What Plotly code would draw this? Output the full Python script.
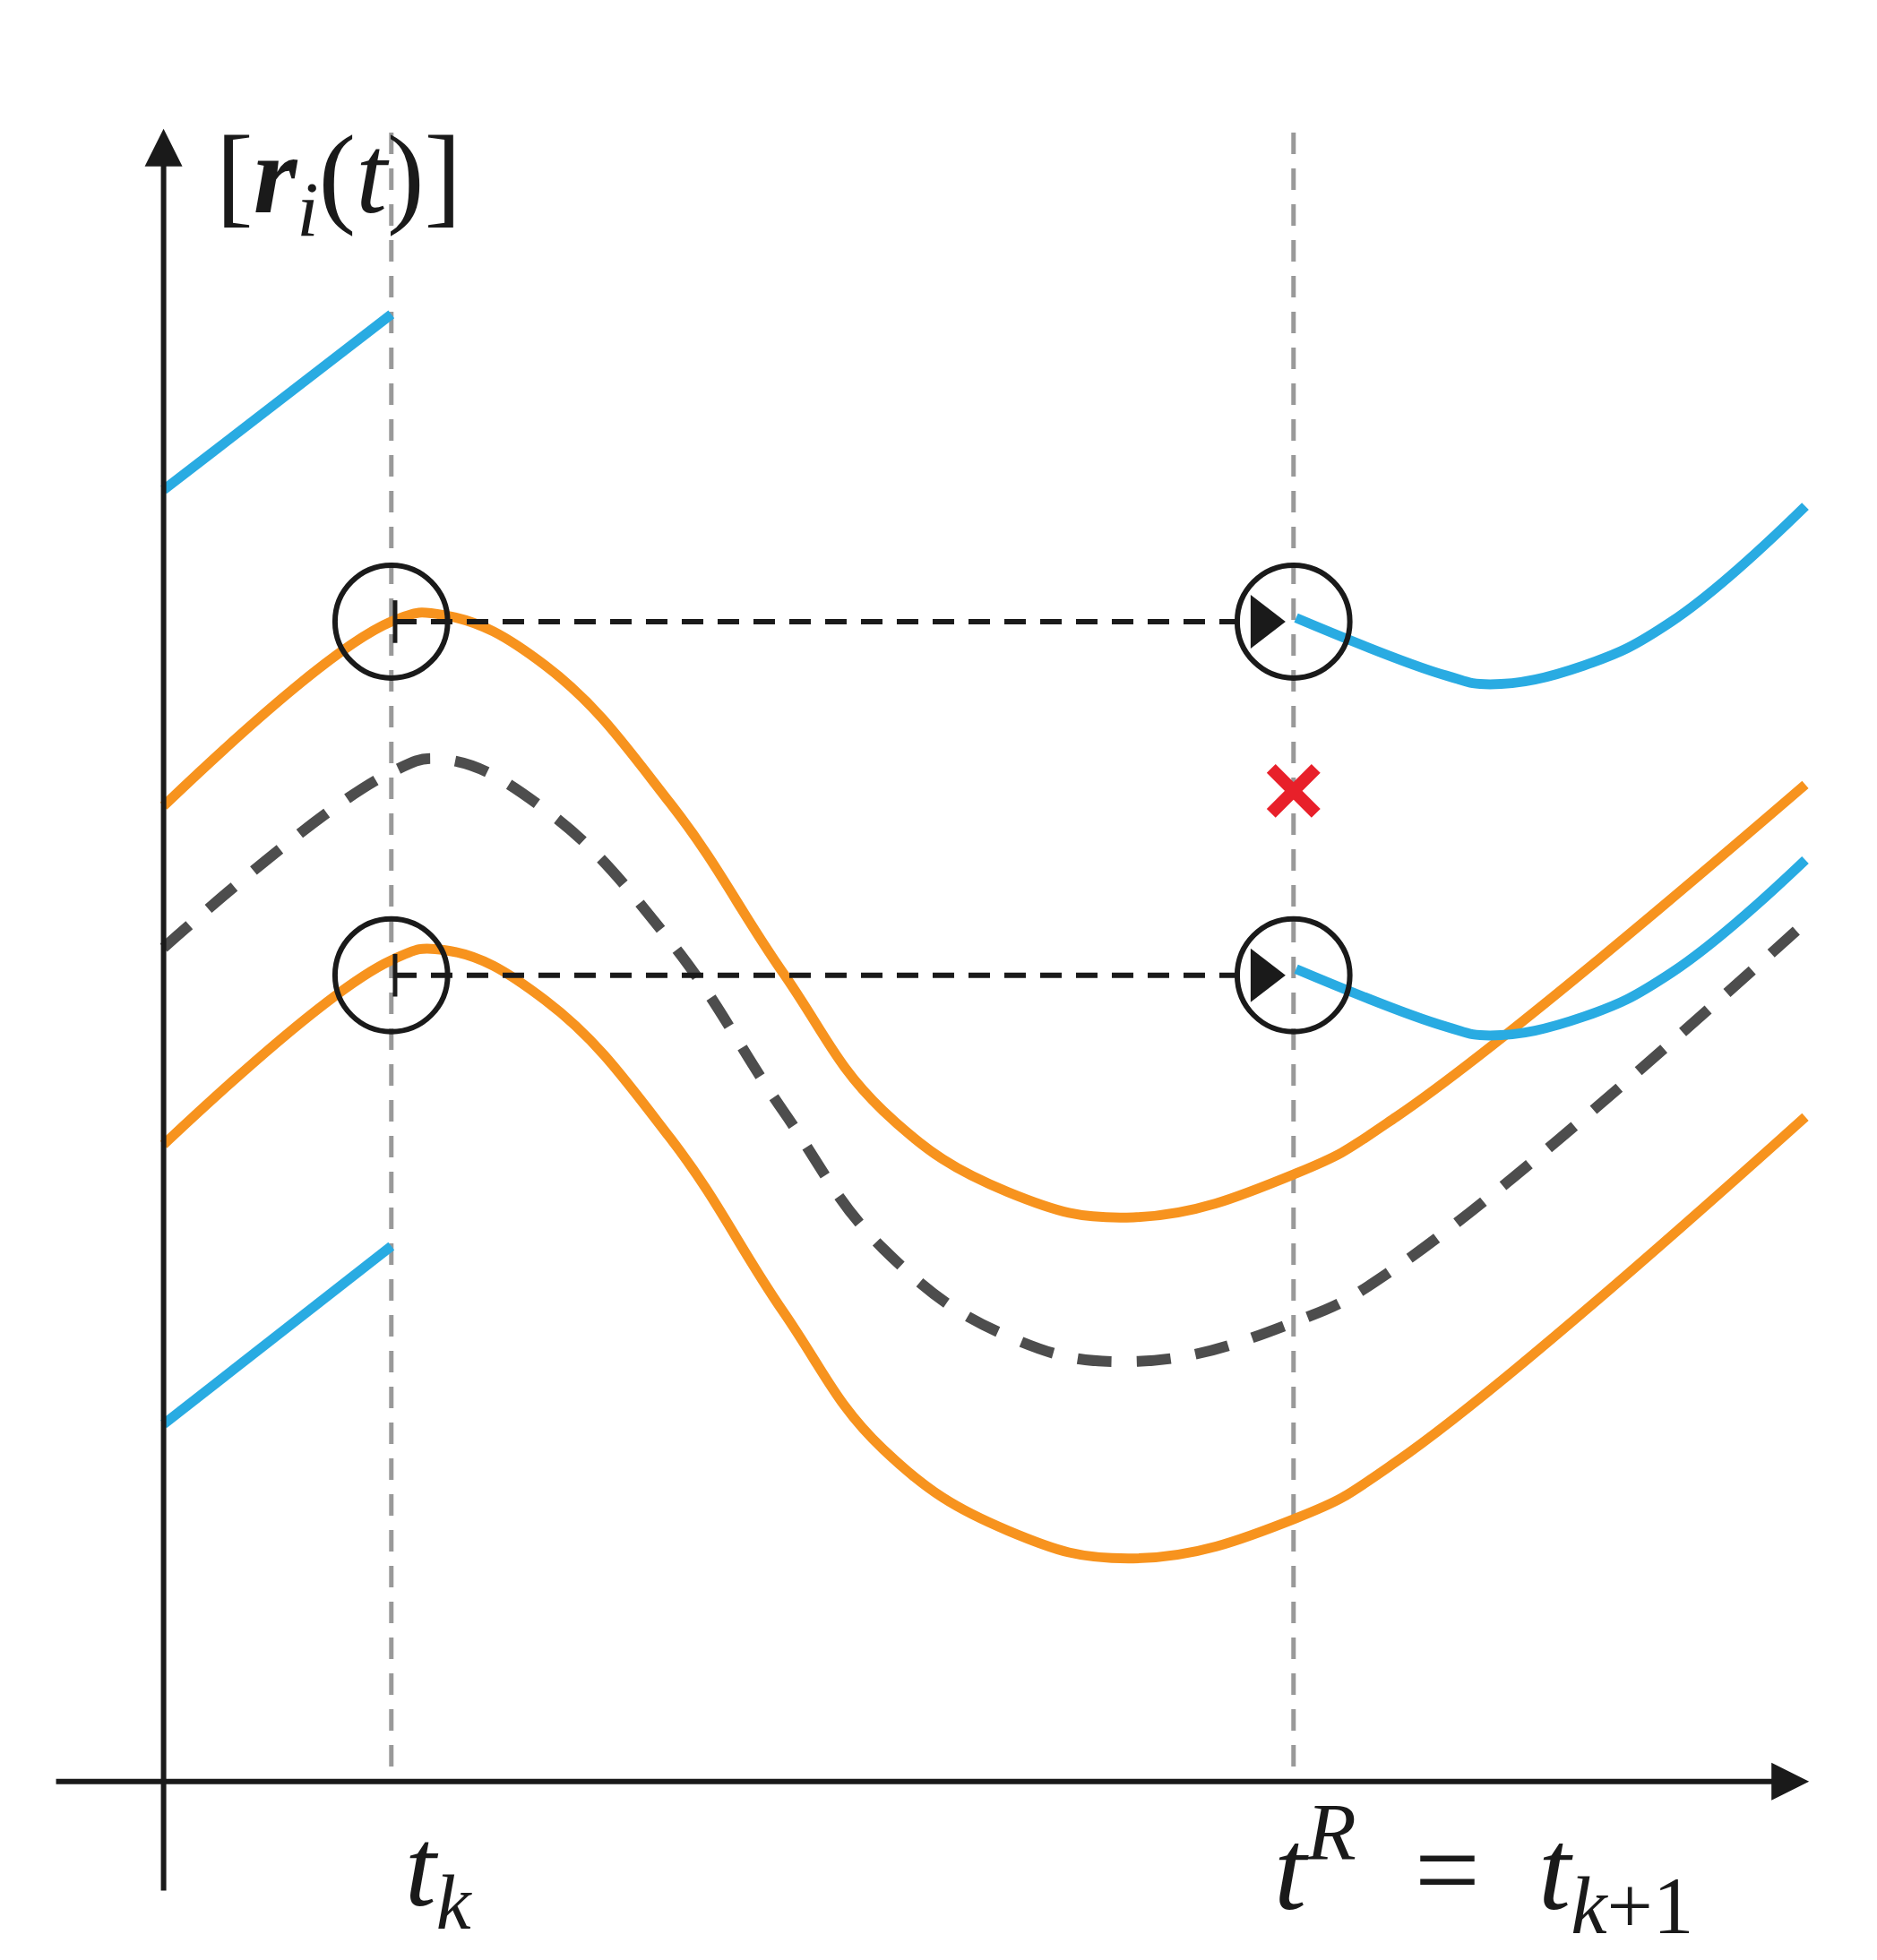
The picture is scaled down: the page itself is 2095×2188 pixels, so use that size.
import plotly.graph_objects as go

# schematic coordinates (image-like units: x right, y down)
t_k = 307
t_R = 1028

blue_top_x = [125, 307]
blue_top_y = [385, 245]
blue_bot_x = [125, 307]
blue_bot_y = [1130, 988]

orange_x = [125, 307, 350, 430, 530, 620, 700, 800, 900, 1030, 1110, 1437]
orange_up_y = [637, 490, 485, 525, 635, 770, 880, 945, 965, 930, 885, 620]
orange_lo_y = [907, 760, 752, 792, 902, 1040, 1150, 1215, 1237, 1205, 1160, 885]

mean_x = [125, 307, 350, 430, 530, 620, 700, 800, 900, 1030, 1110, 1437]
mean_y = [750, 610, 600, 640, 745, 880, 990, 1060, 1080, 1048, 1005, 730]

blue_r_x = [1030, 1150, 1185, 1260, 1330, 1437]
blue_r_up_y = [487, 533, 540, 525, 490, 398]
blue_r_lo_y = [767, 813, 820, 805, 770, 680]

BLUE = "#29abe2"
ORANGE = "#f7931e"

fig = go.Figure()

def line(x, y, color, width=11, dash="solid", shape="spline"):
    fig.add_trace(go.Scatter(x=x, y=y, mode="lines", line=dict(color=color, width=width, dash=dash, shape=shape, smoothing=1.2), hoverinfo="skip"))

# vertical guides
for xv in [t_k, t_R]:
    line([xv, xv], [100, 1415], "#999999", width=5, dash="24px,16px", shape="linear")

line(blue_top_x, blue_top_y, BLUE, shape="linear")
line(blue_bot_x, blue_bot_y, BLUE, shape="linear")
line(orange_x, orange_up_y, ORANGE)
line(orange_x, orange_lo_y, ORANGE)
line(mean_x, mean_y, "#4d4d4d", width=12, dash="38px,28px")
line(blue_r_x, blue_r_up_y, BLUE)
line(blue_r_x, blue_r_lo_y, BLUE)

# dashed transfer arrows
for yv in [490, 772]:
    line([310, 985], [yv, yv], "#1a1a1a", width=6, dash="24px,16px", shape="linear")
    line([310, 310], [yv - 17, yv + 17], "#1a1a1a", width=5, shape="linear")
    fig.add_trace(go.Scatter(x=[1003], y=[yv], mode="markers", marker=dict(symbol="triangle-right", size=52, color="#1a1a1a"), hoverinfo="skip"))
    for xc in [t_k, t_R]:
        fig.add_shape(type="circle", x0=xc - 45, x1=xc + 45, y0=yv - 45, y1=yv + 45, line=dict(color="#1a1a1a", width=6))

# red cross
fig.add_trace(go.Scatter(x=[t_R], y=[625], mode="markers", marker=dict(symbol="x-thin", size=50, line=dict(color="#e8202a", width=14)), hoverinfo="skip"))

# axes with arrows
fig.add_annotation(x=1440, y=1415, ax=38, ay=1415, xref="x", yref="y", axref="x", ayref="y", text="", showarrow=True, arrowhead=2, arrowsize=1.4, arrowwidth=6, arrowcolor="#1a1a1a")
fig.add_annotation(x=125, y=97, ax=125, ay=1503, xref="x", yref="y", axref="x", ayref="y", text="", showarrow=True, arrowhead=2, arrowsize=1.4, arrowwidth=6, arrowcolor="#1a1a1a")

serif = "Liberation Serif"
fig.add_annotation(x=265, y=140, xref="x", yref="y", showarrow=False, font=dict(family=serif, size=125, color="#1a1a1a"),
                   text="[<b><i>r</i></b><sub><i>i</i></sub>(<i>t</i>)]")
fig.add_annotation(x=345, y=1490, xref="x", yref="y", showarrow=False, font=dict(family=serif, size=125, color="#1a1a1a"),
                   text="<i>t</i><sub><i>k</i></sub>")
fig.add_annotation(x=1180, y=1485, xref="x", yref="y", showarrow=False, font=dict(family=serif, size=130, color="#1a1a1a"),
                   text="<i>t</i><sup><i>R</i></sup>  =  <i>t</i><sub><i>k</i>+1</sub>")

fig.update_layout(width=2095, height=2188, margin=dict(l=0, r=0, t=0, b=0), showlegend=False,
                  plot_bgcolor="white", paper_bgcolor="white")
fig.update_xaxes(range=[0, 1500], visible=False)
fig.update_yaxes(range=[1563, 0], visible=False)
fig.write_html("out.html")
